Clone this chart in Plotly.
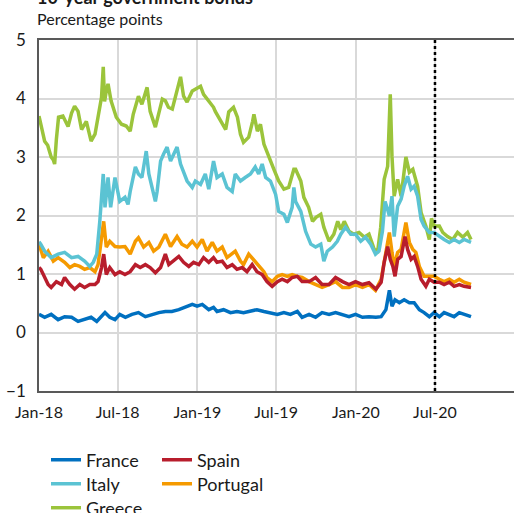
import pandas as pd
import plotly.graph_objects as go

START = pd.Timestamp("2018-01-01")

# Day offsets from 1 Jan 2018 and spread values (percentage points)
greece_day = [0,4,13,20,28,33,36,40,45,55,61,67,75,82,90,98,109,120,129,136,144,148,151,155,159,166,178,190,201,210,217,229,237,249,256,268,275,284,291,298,307,319,326,333,341,353,365,372,379,391,402,406,418,430,437,448,457,464,471,483,492,495,503,510,518,529,541,552,564,575,587,591,603,610,621,630,638,649,656,668,679,688,695,703,714,725,737,749,760,772,780,787,795,803,809,813,818,826,834,845,853,861,872,880,891,899,904,910,922,930,941,953,964,976,987,995]
greece_val = [3.70,3.55,3.27,3.20,3.00,2.95,2.88,3.30,3.68,3.70,3.60,3.52,3.75,3.87,3.78,3.47,3.61,3.27,3.39,3.73,4.02,4.54,3.95,4.13,4.25,3.96,3.68,3.56,3.53,3.44,3.73,4.04,3.90,4.19,3.78,3.51,3.73,3.99,3.96,3.85,3.82,4.19,4.37,4.04,3.94,4.13,4.19,4.21,4.07,3.96,3.85,3.78,3.61,3.47,3.77,3.85,3.68,3.39,3.25,3.34,3.61,3.73,3.44,3.56,3.22,3.00,2.79,2.59,2.45,2.48,2.79,2.79,2.59,2.31,2.14,1.90,1.97,2.02,1.80,1.56,1.68,1.90,1.76,1.90,1.73,1.68,1.71,1.63,1.68,1.42,1.39,1.80,2.62,2.84,4.07,3.01,2.33,2.62,2.33,3.00,2.74,2.79,2.50,2.05,1.82,1.59,1.95,1.82,1.82,1.71,1.64,1.59,1.71,1.63,1.71,1.59]

italy_day = [0,4,13,28,44,59,75,90,105,117,125,133,140,144,148,152,159,165,175,186,198,205,210,222,229,237,247,253,260,268,272,280,287,295,303,310,318,326,333,341,353,360,372,383,391,402,410,422,433,445,452,464,475,487,498,506,514,522,533,545,552,564,572,583,587,591,603,614,626,637,649,656,664,676,687,695,706,718,729,741,752,764,775,783,791,797,803,807,813,818,826,834,841,849,857,864,872,880,887,899,910,922,933,945,956,968,979,995]
italy_val = [1.55,1.51,1.39,1.28,1.34,1.37,1.28,1.30,1.22,1.13,1.20,1.34,1.90,2.31,2.71,2.14,2.65,2.14,2.65,2.24,2.31,2.19,2.41,2.83,2.71,2.65,3.10,2.71,2.48,2.24,2.41,2.93,3.05,3.17,2.93,3.05,3.17,2.88,2.76,2.59,2.48,2.59,2.53,2.71,2.45,2.93,2.65,2.71,2.48,2.41,2.71,2.59,2.65,2.71,2.83,2.71,2.88,2.65,2.59,2.36,2.07,2.02,1.88,2.14,2.48,2.24,2.07,1.73,1.51,1.46,1.51,1.22,1.39,1.46,1.56,1.68,1.80,1.68,1.68,1.56,1.63,1.51,1.34,1.39,1.73,2.24,2.10,1.99,2.33,1.64,2.16,2.28,2.50,2.67,2.45,2.50,2.33,1.93,1.82,1.71,1.71,1.64,1.59,1.54,1.59,1.54,1.59,1.54]

portugal_day = [0,10,21,33,44,59,71,82,94,105,117,129,136,144,149,155,163,175,186,198,210,222,229,241,253,264,276,291,303,318,329,341,353,364,376,387,399,410,422,433,445,452,464,471,483,494,506,518,525,537,549,560,572,583,595,606,622,637,652,668,683,699,714,729,745,760,775,788,799,807,813,818,826,834,845,853,861,868,876,887,899,910,922,933,945,956,968,979,995]
portugal_val = [1.51,1.28,1.39,1.22,1.28,1.20,1.11,1.16,1.13,1.08,1.11,1.04,1.16,1.56,1.90,1.46,1.56,1.47,1.46,1.47,1.34,1.56,1.62,1.46,1.54,1.39,1.46,1.68,1.47,1.64,1.51,1.46,1.56,1.46,1.59,1.39,1.54,1.39,1.46,1.28,1.34,1.39,1.22,1.16,1.34,1.25,1.13,1.04,0.94,0.87,0.96,0.99,0.96,0.99,0.96,0.94,0.87,0.82,0.77,0.82,0.87,0.77,0.77,0.82,0.77,0.82,0.72,0.91,1.37,1.71,1.37,1.13,1.37,1.42,1.88,1.54,1.42,1.37,1.13,0.96,0.96,0.96,0.91,0.87,0.91,0.86,0.91,0.86,0.82]

spain_day = [0,4,10,21,28,40,52,59,71,82,94,105,117,129,136,144,149,155,163,175,186,198,210,222,233,245,256,268,280,291,299,310,322,333,345,356,368,379,391,402,410,422,433,445,456,468,479,491,502,514,525,537,549,560,572,583,595,606,622,637,652,668,683,699,714,729,745,760,776,788,795,803,809,815,820,826,834,843,849,857,864,872,880,891,899,910,922,933,945,956,968,979,995]
spain_val = [1.11,1.08,0.99,0.82,0.77,0.87,0.82,0.94,0.82,0.74,0.82,0.77,0.82,0.82,0.87,1.11,1.34,0.99,1.11,0.99,1.04,0.99,1.04,1.16,1.11,1.16,1.11,1.02,1.11,1.34,1.16,1.22,1.30,1.20,1.13,1.20,1.16,1.28,1.20,1.28,1.20,1.22,1.11,1.16,1.08,1.11,1.04,1.16,1.04,0.99,0.87,0.79,0.87,0.91,0.87,0.94,0.96,0.87,0.87,0.94,0.82,0.82,0.94,0.87,0.82,0.87,0.82,0.85,0.74,0.86,1.20,1.47,1.25,1.13,0.96,1.25,1.30,1.64,1.42,1.25,1.30,1.13,0.91,0.79,0.91,0.86,0.86,0.82,0.86,0.79,0.82,0.79,0.77]

france_day = [0,13,28,44,59,75,90,105,120,133,144,152,163,175,186,199,214,229,245,260,276,291,306,322,337,353,364,376,391,402,410,425,441,456,471,487,502,518,533,549,564,579,595,606,622,637,652,668,683,699,714,729,745,760,776,788,799,807,813,820,830,841,853,864,876,887,899,910,922,933,945,956,968,979,995]
france_val = [0.31,0.26,0.31,0.22,0.27,0.26,0.19,0.22,0.26,0.19,0.27,0.34,0.26,0.22,0.31,0.26,0.31,0.34,0.27,0.31,0.34,0.36,0.36,0.39,0.43,0.48,0.45,0.48,0.39,0.43,0.36,0.39,0.34,0.36,0.34,0.36,0.39,0.36,0.34,0.31,0.34,0.31,0.36,0.26,0.31,0.26,0.34,0.31,0.34,0.31,0.27,0.31,0.26,0.27,0.26,0.27,0.39,0.72,0.45,0.56,0.51,0.56,0.51,0.51,0.39,0.34,0.27,0.34,0.27,0.34,0.31,0.27,0.34,0.31,0.27]

x_range = ["2018-01-01", "2020-12-30"]
y_range = [-1, 5]
marker_date = "2020-07-01"

FONT = "Lato"
TXT = "#1a1a1a"

series = [
    # name, days, values, colour, legend, rank  (draw order: Greece at back)
    ("Greece", greece_day, greece_val, "#9BC43B", "legend3", 1),
    ("Portugal", portugal_day, portugal_val, "#F59A00", "legend2", 2),
    ("Italy", italy_day, italy_val, "#5BC3D3", "legend2", 1),
    ("Spain", spain_day, spain_val, "#B81D2C", "legend", 2),
    ("France", france_day, france_val, "#0070C0", "legend", 1),
]

fig = go.Figure()
for name, days, vals, col, leg, rank in series:
    dates = START + pd.to_timedelta(days, unit="D")
    fig.add_trace(go.Scatter(
        x=dates, y=vals, mode="lines", name=name,
        line=dict(color=col, width=3.5),
        legend=leg, legendrank=rank, hoverinfo="skip",
    ))

fig.add_shape(type="line", xref="x", yref="paper", x0=marker_date, x1=marker_date,
              y0=0, y1=1, line=dict(color="black", width=2.5, dash="dot"))

legend_common = dict(orientation="h", xref="container", yref="container",
                     xanchor="left", yanchor="middle",
                     bgcolor="rgba(0,0,0,0)", font=dict(family=FONT, size=18, color=TXT),
                     entrywidthmode="pixels", entrywidth=66, itemwidth=30,
                     tracegroupgap=0)

fig.update_layout(
    width=514, height=513,
    margin=dict(l=39, r=0, t=40, b=122),
    paper_bgcolor="white", plot_bgcolor="white",
    font=dict(family=FONT, size=16, color=TXT),
    showlegend=True,
    legend=dict(legend_common, x=46/514, y=1-460/513),
    legend2=dict(legend_common, x=46/514, y=1-484/513),
    legend3=dict(legend_common, x=46/514, y=1-508/513),
    xaxis=dict(
        type="date", range=x_range, dtick="M6", tick0="2018-01-01",
        tickformat="%b-%y", showgrid=True, gridcolor="#D9D9D9", gridwidth=1.5,
        showline=True, linecolor="#595959", linewidth=1.5, mirror=True,
        ticks="outside", ticklen=6, tickcolor="rgba(0,0,0,0)", automargin=False,
        tickfont=dict(family=FONT, size=16, color=TXT), zeroline=False,
    ),
    yaxis=dict(
        range=y_range, dtick=1, showgrid=True, gridcolor="#D9D9D9", gridwidth=1.5,
        showline=True, linecolor="#595959", linewidth=1.5, automargin=False,
        ticks="outside", ticklen=8, tickcolor="rgba(0,0,0,0)",
        tickfont=dict(family=FONT, size=17, color=TXT), zeroline=False,
    ),
    annotations=[
        dict(text="<b>10-year government bonds</b>", xref="paper", yref="paper",
             x=-4/475, y=(391+3.5)/351, xanchor="left", yanchor="middle", showarrow=False,
             font=dict(family=FONT, size=18, color=TXT)),
        dict(text="Percentage points", xref="paper", yref="paper",
             x=-4/475, y=(391-18.5)/351, xanchor="left", yanchor="middle", showarrow=False,
             font=dict(family=FONT, size=16, color=TXT)),
    ],
)

fig.write_html("out.html", config={"displayModeBar": False},
               post_script="document.body.style.margin='0';")
